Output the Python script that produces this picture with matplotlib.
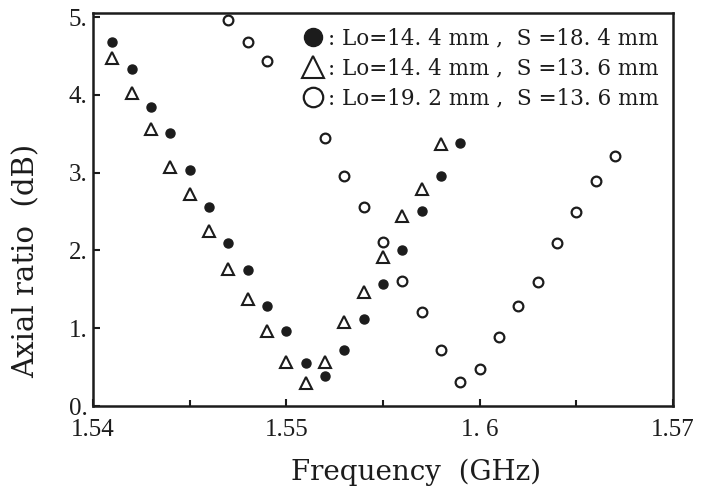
import matplotlib.pyplot as plt
from matplotlib.ticker import MultipleLocator

# данные (частота в ГГц, осевое отношение в дБ)
freq_filled = [1.541, 1.542, 1.543, 1.544, 1.545, 1.546, 1.547, 1.548, 1.549, 1.550,
               1.551, 1.552, 1.553, 1.554, 1.555, 1.556, 1.557, 1.558, 1.559]
ar_filled = [4.68, 4.33, 3.85, 3.51, 3.04, 2.56, 2.10, 1.75, 1.28, 0.97,
             0.55, 0.39, 0.72, 1.12, 1.57, 2.01, 2.51, 2.96, 3.38]

freq_tri = [1.541, 1.542, 1.543, 1.544, 1.545, 1.546, 1.547, 1.548, 1.549, 1.550,
            1.551, 1.552, 1.553, 1.554, 1.555, 1.556, 1.557, 1.558]
ar_tri = [4.48, 4.02, 3.56, 3.07, 2.73, 2.25, 1.76, 1.38, 0.96, 0.56,
          0.30, 0.56, 1.08, 1.47, 1.91, 2.44, 2.79, 3.37]

freq_open = [1.547, 1.548, 1.549, 1.552, 1.553, 1.554, 1.555, 1.556, 1.557, 1.558,
             1.559, 1.560, 1.561, 1.562, 1.563, 1.564, 1.565, 1.566, 1.567]
ar_open = [4.96, 4.68, 4.44, 3.45, 2.96, 2.56, 2.11, 1.61, 1.21, 0.72,
           0.31, 0.47, 0.89, 1.29, 1.60, 2.09, 2.50, 2.89, 3.21]

labels = [": Lo=14. 4 mm ,  S =18. 4 mm",
          ": Lo=14. 4 mm ,  S =13. 6 mm",
          ": Lo=19. 2 mm ,  S =13. 6 mm"]

x_ticks = [1.54, 1.55, 1.56, 1.57]
x_tick_labels = ["1.54", "1.55", "1. 6", "1.57"]
y_ticks = [0, 1, 2, 3, 4, 5]
y_tick_labels = ["0.", "1.", "2.", "3.", "4.", "5."]

ink = "#1c1c1c"
plt.rcParams["font.family"] = ["Liberation Serif", "DejaVu Serif"]

fig = plt.figure(figsize=(7.02, 4.91), dpi=100)
ax = fig.add_axes([0.1325, 0.173, 0.826, 0.80])

#точки трёх серий
ax.plot(freq_filled, ar_filled, linestyle="none", marker="o", markersize=6.5,
        color=ink, label=labels[0])
ax.plot(freq_tri, ar_tri, linestyle="none", marker="^", markersize=8,
        markerfacecolor="white", markeredgecolor=ink, markeredgewidth=1.5,
        label=labels[1])
ax.plot(freq_open, ar_open, linestyle="none", marker="o", markersize=7,
        markerfacecolor="white", markeredgecolor=ink, markeredgewidth=1.6,
        label=labels[2])

#оси
ax.set_xlim(1.54, 1.57)
ax.set_ylim(0, 5.05)
ax.set_xticks(x_ticks)
ax.set_xticklabels(x_tick_labels)
ax.xaxis.set_minor_locator(MultipleLocator(0.005))
ax.set_yticks(y_ticks)
ax.set_yticklabels(y_tick_labels)
ax.tick_params(axis="both", which="both", direction="in", colors=ink,
               labelsize=18, width=1.5)
ax.tick_params(axis="both", which="major", length=5)
ax.tick_params(axis="both", which="minor", length=4)
ax.tick_params(axis="x", pad=9)
ax.tick_params(axis="y", pad=4)
for sp in ax.spines.values():
    sp.set_linewidth(1.8)
    sp.set_color(ink)

ax.set_xlabel("Frequency  (GHz)", fontsize=20, color=ink,
              family=["DejaVu Serif"])
ax.xaxis.set_label_coords(0.557, -0.135)
ax.set_ylabel("Axial ratio  (dB)", fontsize=21, color=ink,
              family=["DejaVu Serif"])
ax.yaxis.set_label_coords(-0.09, 0.37)

#легенда
leg = ax.legend(loc="upper right", frameon=False, markerscale=2.0,
                handlelength=0.8, handletextpad=0.3, labelspacing=0.38,
                borderaxespad=0.25, prop={"family": ["DejaVu Serif"], "size": 15.5})
for t in leg.get_texts():
    t.set_color(ink)

fig.savefig("out.png", dpi=100)
plt.close(fig)
